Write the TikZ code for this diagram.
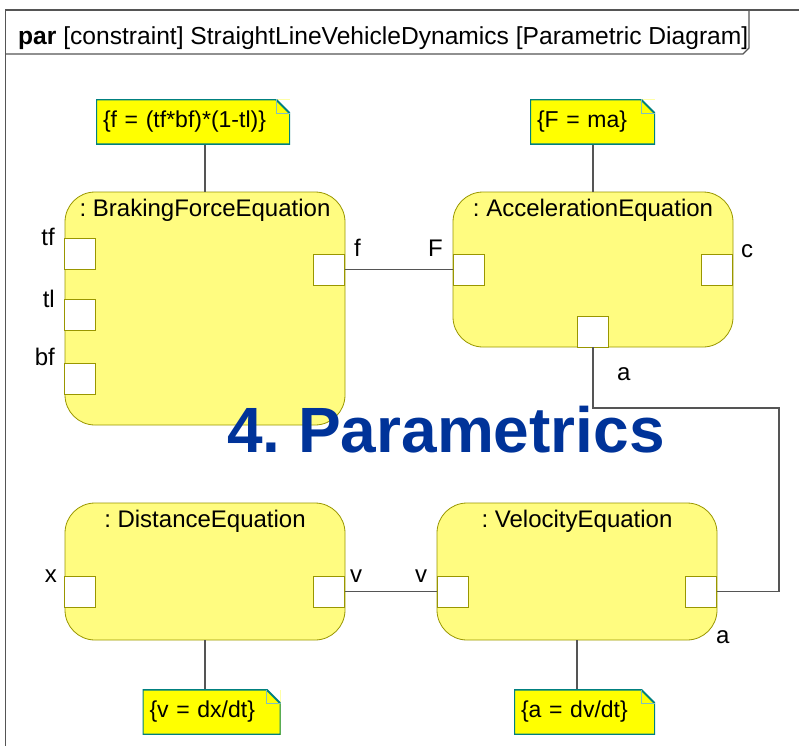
\documentclass[tikz,border=0pt]{standalone}
\usepackage{fontspec}
\setmainfont{Liberation Sans}
\usetikzlibrary{calc}
\frenchspacing

\definecolor{blockfill}{RGB}{255,252,128}
\definecolor{blockline}{RGB}{153,150,0}
\definecolor{notefill}{RGB}{255,255,0}
\definecolor{noteline}{RGB}{0,128,128}
\definecolor{wiregray}{RGB}{85,85,85}
\definecolor{titleblue}{RGB}{0,51,153}

\begin{document}
\begin{tikzpicture}[x=1pt,y=-1pt,
    font=\fontsize{24}{28}\selectfont,
    block/.style={draw=blockline, fill=blockfill, rounded corners=30pt,
      minimum width=280pt, inner sep=0pt, line width=0.8pt},
    port/.style={draw=blockline, fill=white, minimum size=31pt,
      inner sep=0pt, line width=0.8pt},
    notebox/.style={fill=notefill, minimum height=45pt, inner xsep=7pt,
      align=left, font=\fontsize{23}{27}\selectfont,
      path picture={
        \fill[white] ($(path picture bounding box.north east)+(-14,0)$)
          -- (path picture bounding box.north east)
          -- ($(path picture bounding box.north east)+(0,14)$) -- cycle;
        \draw[noteline, line width=2pt] (path picture bounding box.north west)
          -- ($(path picture bounding box.north east)+(-14,0)$)
          -- ($(path picture bounding box.north east)+(0,14)$)
          -- (path picture bounding box.south east)
          -- (path picture bounding box.south west) -- cycle;
        \draw[noteline!50, line width=0.8pt]
          ($(path picture bounding box.north east)+(-14,0)$)
          |- ($(path picture bounding box.north east)+(0,14)$);
      }},
    wire/.style={draw=wiregray, line width=1.2pt},
    lbl/.style={anchor=base, inner sep=0pt},
  ]
  \useasboundingbox (0,0) rectangle (799,746);

  % Cadre
  \draw[wiregray, line width=1.2pt] (799,10) -- (5.5,10) -- (5.5,746);
  \draw[wiregray, line width=1.2pt] (5.5,54) -- (743,54) -- (749,48) -- (749,10);
  \node[anchor=base west, inner sep=0pt, font=\fontsize{24.6}{28}\selectfont] (hdr) at (18,45)
    {\textbf{par} [constraint] StraightLineVehicleDynamics [Parametric Diagram]};

  % Blocs
  \node[block, minimum height=233pt] (brake) at (205,308.5) {};
  \node[block, minimum height=155pt] (accel) at (593,269.5) {};
  \node[block, minimum height=137pt] (dist) at (205,571.5) {};
  \node[block, minimum height=137pt] (vel) at (577,571.5) {};

  \node[lbl] (brakettl) at ($(brake.north)+(0,25)$) {: BrakingForceEquation};
  \node[lbl] (accelttl) at ($(accel.north)+(0,25)$) {: AccelerationEquation};
  \node[lbl] (distttl) at ($(dist.north)+(0,25)$) {: DistanceEquation};
  \node[lbl] (velttl) at ($(vel.north)+(0,25)$) {: VelocityEquation};

  % Ports
  \node[port] (braketf) at (80,253.5) {};
  \node[port] (braketl) at (80,315) {};
  \node[port] (brakebf) at (80,378.5) {};
  \node[port] (brakef) at (329,269.5) {};
  \node[port] (accelF) at (469,269.5) {};
  \node[port] (accelc) at (717,269.5) {};
  \node[port] (accela) at (593,331.5) {};
  \node[port] (distx) at (80,591.5) {};
  \node[port] (distv) at (329,591.5) {};
  \node[port] (velv) at (453,591.5) {};
  \node[port] (vela) at (701,591.5) {};

  % Noms des ports
  \node[lbl, anchor=base east] (ltf) at (55,245) {tf};
  \node[lbl, anchor=base east] (ltl) at (55,307) {tl};
  \node[lbl, anchor=base east] (lbf) at (55,365) {bf};
  \node[lbl, anchor=base west] (lf) at (354,256) {f};
  \node[lbl, anchor=base west] (lF) at (428,256) {F};
  \node[lbl, anchor=base west] (lc) at (741,257) {c};
  \node[lbl, anchor=base west] (la1) at (617,380) {a};
  \node[lbl, anchor=base east] (lx) at (57,582) {x};
  \node[lbl, anchor=base west] (lv1) at (350,582) {v};
  \node[lbl, anchor=base west] (lv2) at (415,582) {v};
  \node[lbl, anchor=base west] (la2) at (716,643) {a};

  % Connecteurs
  \draw[wire] (brakef.east) -- (accelF.west);
  \draw[wire] (distv.east) -- (velv.west);
  \coordinate (abend) at (779,408);
  \draw[wire] (accela.south) |- (abend) |- (vela.east);

  % Contraintes
  \node[notebox, text width=180pt] (nbrake) at (193,122) {\{f = (tf*bf)*(1-tl)\}};
  \node[notebox, text width=111pt] (naccel) at (592.5,122) {\{F = ma\}};
  \node[notebox, text width=124pt] (ndist) at (211.5,712) {\{v = dx/dt\}};
  \node[notebox, text width=127pt] (nvel) at (584.5,712) {\{a = dv/dt\}};

  \draw[wire] (brake.north |- nbrake.south) -- (brake.north);
  \draw[wire] (accel.north |- naccel.south) -- (accel.north);
  \draw[wire] (dist.south) -- (dist.south |- ndist.north);
  \draw[wire] (vel.south) -- (vel.south |- nvel.north);

  % Titre
  \node[anchor=base, inner sep=0pt, text=titleblue,
    font=\fontsize{64}{70}\selectfont\bfseries] (bigttl) at (446,452) {4. Parametrics};
\end{tikzpicture}
\end{document}
